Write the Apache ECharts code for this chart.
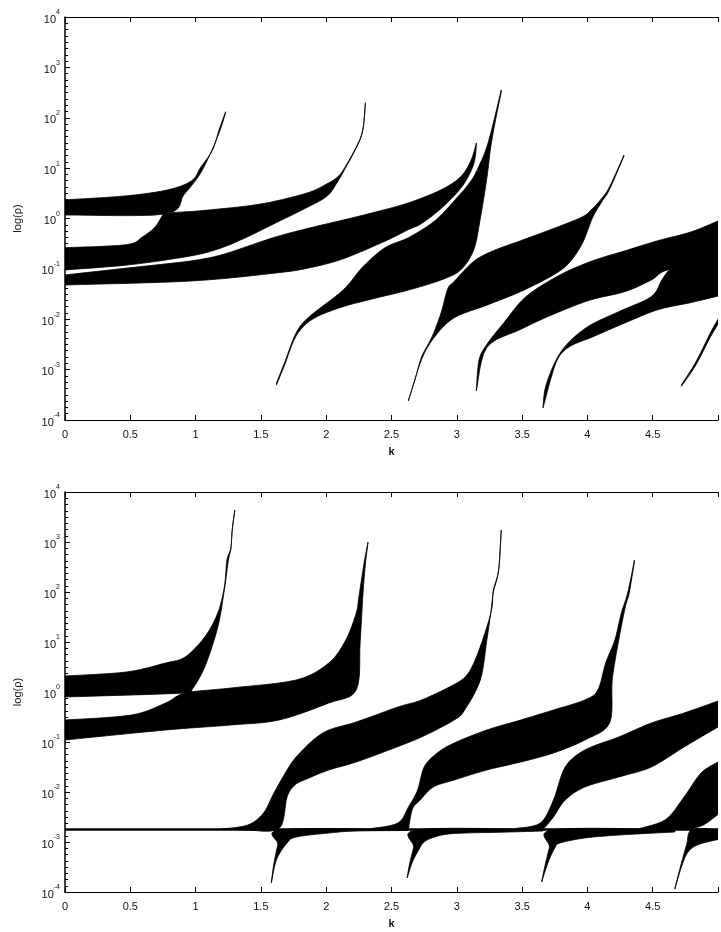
<!DOCTYPE html>
<html><head><meta charset="utf-8">
<script src="https://cdn.jsdelivr.net/npm/echarts@6/dist/echarts.min.js"></script>
<style>html,body{margin:0;padding:0;background:#fff}#c{width:721px;height:932px}</style>
</head><body><div id="c"></div>
<script>
// Tick labels
const xTickLabels = ['0','0.5','1','1.5','2','2.5','3','3.5','4','4.5'];
const yExponents = [4,3,2,1,0,-1,-2,-3,-4];

// Band edges: [k, log10(rho)]
// ---- upper panel ----
const tB1U = [[0,0.37],[0.47,0.45],[0.79,0.57],[0.97,0.75],[1.04,1.02],[1.13,1.36],[1.18,1.76],[1.23,2.12]];
const tB1L = [[0,0.07],[0.77,0.09],[0.91,0.47],[1.02,0.83],[1.09,1.16],[1.18,1.70],[1.23,2.10]];
const tB2U = [[0,-0.58],[0.47,-0.52],[0.59,-0.37],[0.69,-0.17],[0.75,0.07],[0.79,0.11],[1.02,0.15],[1.40,0.25],[1.62,0.35],[1.87,0.52],[2.00,0.68],[2.08,0.81],[2.13,0.96],[2.23,1.42],[2.28,1.76],[2.30,2.30]];
const tB2L = [[0,-1.02],[0.49,-0.92],[0.97,-0.74],[1.20,-0.58],[1.40,-0.36],[1.62,-0.08],[1.80,0.15],[2.00,0.43],[2.08,0.70],[2.13,0.92],[2.23,1.40],[2.28,1.74],[2.30,2.28]];
const tB3U = [[0,-1.12],[0.49,-0.98],[0.97,-0.84],[1.20,-0.72],[1.40,-0.55],[1.62,-0.36],[1.87,-0.19],[2.13,-0.03],[2.38,0.13],[2.63,0.31],[2.88,0.57],[3.03,0.83],[3.11,1.16],[3.15,1.50]];
const tB3L = [[0,-1.32],[0.97,-1.24],[1.62,-1.08],[1.87,-0.98],[2.13,-0.80],[2.45,-0.45],[2.63,-0.22],[2.73,-0.10],[2.88,0.20],[3.03,0.60],[3.11,0.95],[3.14,1.20],[3.15,1.48]];
const tB4U = [[1.62,-3.26],[1.68,-2.87],[1.77,-2.27],[1.87,-1.95],[2.13,-1.42],[2.28,-0.96],[2.45,-0.58],[2.63,-0.38],[2.83,-0.05],[2.98,0.35],[3.11,0.75],[3.18,1.10],[3.23,1.42],[3.28,1.90],[3.34,2.55]];
const tB4L = [[1.62,-3.30],[1.68,-2.92],[1.77,-2.33],[1.90,-1.99],[2.13,-1.75],[2.38,-1.58],[2.63,-1.42],[2.88,-1.22],[3.03,-1.02],[3.13,-0.62],[3.18,0.00],[3.23,0.80],[3.26,1.42],[3.30,2.00],[3.34,2.50]];
const tB5U = [[2.63,-3.60],[2.68,-3.20],[2.73,-2.75],[2.81,-2.35],[2.88,-1.87],[2.93,-1.40],[2.98,-1.25],[3.13,-0.85],[3.28,-0.64],[3.49,-0.44],[3.74,-0.20],[3.96,0.03],[4.04,0.20],[4.11,0.40],[4.17,0.63],[4.28,1.26]];
const tB5L = [[2.63,-3.62],[2.73,-2.80],[2.83,-2.35],[2.98,-1.97],[3.23,-1.72],[3.49,-1.45],[3.74,-1.12],[3.86,-0.88],[3.96,-0.50],[4.04,0.02],[4.11,0.33],[4.17,0.58],[4.28,1.24]];
const tB6U = [[3.15,-3.40],[3.17,-2.81],[3.23,-2.50],[3.36,-2.07],[3.53,-1.55],[3.79,-1.12],[4.04,-0.84],[4.29,-0.64],[4.54,-0.44],[4.79,-0.27],[5.0,-0.05]];
const tB6L = [[3.15,-3.42],[3.23,-2.56],[3.49,-2.20],[3.74,-1.90],[4.02,-1.62],[4.29,-1.45],[4.49,-1.22],[4.62,-1.02],[5.0,-0.95]];
const tB7U = [[3.66,-3.74],[3.68,-3.34],[3.76,-2.81],[3.86,-2.45],[4.02,-2.12],[4.24,-1.85],[4.49,-1.55],[4.57,-1.22],[4.64,-1.00],[4.79,-0.85],[5.0,-0.74]];
const tB7L = [[3.66,-3.76],[3.76,-2.86],[3.86,-2.55],[4.04,-2.35],[4.29,-2.07],[4.54,-1.81],[4.79,-1.67],[5.0,-1.54]];
const tB8U = [[4.72,-3.30],[4.83,-2.85],[4.94,-2.28],[5.0,-2.0]];
const tB8L = [[4.72,-3.33],[4.83,-2.91],[4.94,-2.36],[5.0,-2.1]];

// ---- lower panel ----
const bB1U = [[0,0.32],[0.47,0.40],[0.77,0.58],[0.92,0.70],[1.07,1.10],[1.17,1.58],[1.22,2.10],[1.24,2.64],[1.27,2.88],[1.28,3.24],[1.30,3.64]];
const bB1L = [[0,-0.10],[0.92,-0.02],[0.97,0.04],[1.07,0.50],[1.17,1.30],[1.22,2.04],[1.25,2.62],[1.27,2.86],[1.28,3.22],[1.30,3.62]];
const bB2U = [[0,-0.56],[0.51,-0.46],[0.77,-0.22],[0.92,-0.02],[1.27,0.08],[1.77,0.24],[2.02,0.58],[2.15,1.04],[2.23,1.58],[2.25,1.90],[2.29,2.58],[2.32,3.00]];
const bB2L = [[0,-0.96],[0.77,-0.76],[1.27,-0.66],[1.64,-0.56],[2.02,-0.22],[2.23,0.04],[2.26,1.00],[2.28,1.90],[2.30,2.56],[2.32,2.98]];
const bB3U = [[1.20,-2.74],[1.40,-2.66],[1.52,-2.42],[1.60,-2.02],[1.70,-1.56],[1.77,-1.30],[1.90,-0.96],[2.02,-0.76],[2.23,-0.60],[2.55,-0.30],[2.73,-0.16],[2.98,0.15],[3.08,0.35],[3.15,0.70],[3.23,1.30],[3.27,1.70],[3.28,2.04],[3.32,2.44],[3.34,3.24]];
const bB3L = [[1.40,-2.76],[1.64,-2.73],[1.70,-2.10],[1.76,-1.86],[1.85,-1.74],[2.02,-1.56],[2.23,-1.40],[2.48,-1.16],[2.73,-0.90],[2.98,-0.56],[3.06,-0.36],[3.18,0.24],[3.23,1.04],[3.26,1.58],[3.28,2.00],[3.32,2.42],[3.34,3.22]];
const bB4U = [[1.58,-3.80],[1.60,-3.42],[1.63,-3.05],[1.66,-2.75],[2.63,-2.75]];
const bB4L = [[1.58,-3.82],[1.62,-3.35],[1.70,-3.02],[1.77,-2.90],[2.02,-2.82],[2.23,-2.78],[2.63,-2.77]];
const bB5U = [[2.62,-3.70],[2.64,-3.42],[2.67,-3.10],[2.70,-2.75],[3.66,-2.75]];
const bB5L = [[2.62,-3.72],[2.66,-3.40],[2.71,-3.15],[2.75,-3.00],[2.83,-2.90],[2.98,-2.83],[3.40,-2.80],[3.66,-2.78]];
const bB6U = [[3.65,-3.78],[3.68,-3.42],[3.71,-3.10],[3.74,-2.75],[4.67,-2.75]];
const bB6L = [[3.65,-3.80],[3.70,-3.40],[3.75,-3.12],[3.79,-3.02],[3.98,-2.92],[4.24,-2.86],[4.67,-2.80]];
const bB7U = [[4.67,-3.92],[4.72,-3.42],[4.76,-3.05],[4.80,-2.75],[5.0,-2.75]];
const bB7L = [[4.67,-3.94],[4.72,-3.50],[4.77,-3.20],[4.85,-3.05],[5.0,-2.95]];
const bB8U = [[2.35,-2.73],[2.55,-2.62],[2.63,-2.30],[2.70,-1.96],[2.75,-1.50],[2.85,-1.22],[2.98,-1.02],[3.23,-0.76],[3.49,-0.56],[3.74,-0.36],[3.98,-0.16],[4.08,0.04],[4.14,0.58],[4.21,1.04],[4.26,1.58],[4.30,1.90],[4.33,2.24],[4.36,2.64]];
const bB8L = [[2.63,-2.75],[2.66,-2.34],[2.72,-2.16],[2.82,-1.90],[2.98,-1.76],[3.23,-1.56],[3.49,-1.40],[3.74,-1.22],[3.98,-0.96],[4.17,-0.62],[4.19,0.24],[4.24,1.04],[4.29,1.70],[4.32,1.98],[4.36,2.60]];
const bB9U = [[3.45,-2.73],[3.64,-2.62],[3.74,-2.16],[3.83,-1.50],[3.98,-1.16],[4.24,-0.90],[4.49,-0.62],[4.74,-0.42],[5.0,-0.18]];
const bB9L = [[3.66,-2.75],[3.74,-2.50],[3.83,-2.16],[3.98,-1.90],[4.24,-1.70],[4.49,-1.50],[4.74,-1.10],[5.0,-0.70]];
const bB10U = [[4.40,-2.73],[4.60,-2.55],[4.74,-2.10],[4.87,-1.62],[5.0,-1.40]];
const bB10L = [[4.60,-2.75],[4.85,-2.70],[5.0,-2.45]];
const bFloor = [[0,-2.75],[5,-2.75]];

const topBands = [[tB1U,tB1L],[tB2U,tB2L],[tB3U,tB3L],[tB4U,tB4L],[tB5U,tB5L],[tB6U,tB6L],[tB7U,tB7L],[tB8U,tB8L]];
const botBands = [[bB1U,bB1L],[bB2U,bB2L],[bB3U,bB3L],[bB4U,bB4L],[bB5U,bB5L],[bB6U,bB6L],[bB7U,bB7L],[bB8U,bB8L],[bB9U,bB9L],[bB10U,bB10L]];

const FONT = 'Liberation Sans, Arial, sans-serif';

// Rendering-only smoothing of an edge in pixel space (Catmull-Rom style Bezier, sampled),
// so the corners where two edges meet stay sharp.
function smoothEdge(pts) {
  const out = [pts[0]];
  const t = 0.16, steps = 6;
  for (let i = 0; i < pts.length - 1; i++) {
    const p0 = pts[Math.max(0, i - 1)], p1 = pts[i], p2 = pts[i + 1], p3 = pts[Math.min(pts.length - 1, i + 2)];
    const c1 = [p1[0] + (p2[0] - p0[0]) * t, p1[1] + (p2[1] - p0[1]) * t];
    const c2 = [p2[0] - (p3[0] - p1[0]) * t, p2[1] - (p3[1] - p1[1]) * t];
    for (let s = 1; s <= steps; s++) {
      const u = s / steps, v = 1 - u;
      const a = v * v * v, b = 3 * v * v * u, c = 3 * v * u * u, d = u * u * u;
      out.push([a * p1[0] + b * c1[0] + c * c2[0] + d * p2[0], a * p1[1] + b * c1[1] + c * c2[1] + d * p2[1]]);
    }
  }
  return out;
}

function bandSeries(xi, yi, upper, lower) {
  return {
    type: 'custom', xAxisIndex: xi, yAxisIndex: yi, silent: true, animation: false, clip: true,
    data: [upper[0]],
    renderItem: function (params, api) {
      const up = smoothEdge(upper.map(p => api.coord(p)));
      const lo = smoothEdge(lower.slice().reverse().map(p => api.coord(p)));
      return {
        type: 'polygon', shape: { points: up.concat(lo) },
        style: { fill: '#000', stroke: '#000', lineWidth: 0.8 }
      };
    }
  };
}

function xAxes(gi) {
  const base = {
    gridIndex: gi, type: 'value', min: 0, max: 5, interval: 0.5,
    splitLine: { show: false },
    axisLine: { show: true, onZero: false, lineStyle: { color: '#000', width: 1.2 } },
    axisTick: { show: true, inside: true, length: 5, lineStyle: { color: '#000' } }
  };
  return [
    Object.assign({}, base, {
      position: 'bottom', name: 'k', nameLocation: 'middle', nameGap: 26,
      nameTextStyle: { fontFamily: FONT, fontSize: 11, color: '#111', fontWeight: 'bold' },
      axisLabel: {
        fontFamily: FONT, fontSize: 11, color: '#111', margin: 9,
        formatter: v => { const i = Math.round(v / 0.5); return i < xTickLabels.length ? xTickLabels[i] : ''; }
      }
    }),
    Object.assign({}, base, { position: 'top', axisLabel: { show: false } })
  ];
}

function yAxis(gi) {
  return {
    gridIndex: gi, type: 'value', min: -4, max: 4, interval: 1,
    name: 'log(\u03c1)', nameLocation: 'middle', nameGap: 42, nameRotate: 90,
    nameTextStyle: { fontFamily: FONT, fontSize: 11, color: '#111' },
    splitLine: { show: false },
    axisLine: { show: true, onZero: false, lineStyle: { color: '#000', width: 1.5 } },
    axisTick: { show: true, inside: true, length: 5, lineStyle: { color: '#000' } },
    minorTick: { show: true, splitNumber: 8, length: 3, lineStyle: { color: '#000' } },
    axisLabel: {
      margin: 5, fontFamily: FONT, color: '#111',
      formatter: v => {
        const e = Math.round(v);
        if (yExponents.indexOf(e) < 0) return '';
        return '{b|10}{s|' + e + '}';
      },
      rich: {
        b: { fontFamily: FONT, fontSize: 11, color: '#111', lineHeight: 16, verticalAlign: 'bottom' },
        s: { fontFamily: FONT, fontSize: 7, color: '#111', lineHeight: 16, verticalAlign: 'top' }
      }
    }
  };
}

const series = [];
topBands.forEach(b => series.push(bandSeries(0, 0, b[0], b[1])));
botBands.forEach(b => series.push(bandSeries(2, 1, b[0], b[1])));
series.push({
  type: 'line', xAxisIndex: 2, yAxisIndex: 1, data: bFloor, symbol: 'none',
  silent: true, animation: false, lineStyle: { color: '#000', width: 2.5 }
});

const chart = echarts.init(document.getElementById('c'), null, { renderer: 'canvas' });
chart.setOption({
  backgroundColor: '#fff',
  animation: false,
  grid: [
    { left: 65, right: -7, top: 17, height: 403 },
    { left: 65, right: -7, top: 492, height: 400 }
  ],
  xAxis: xAxes(0).concat(xAxes(1)),
  yAxis: [yAxis(0), yAxis(1)],
  series: series
});
</script></body></html>
